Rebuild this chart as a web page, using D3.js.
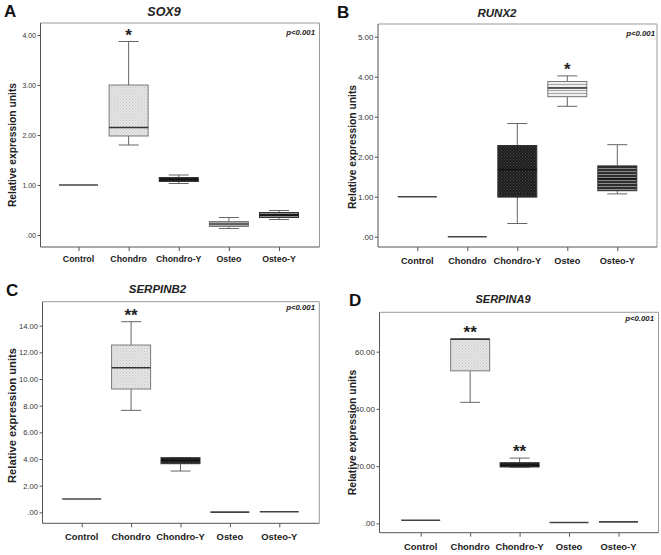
<!DOCTYPE html>
<html><head><meta charset="utf-8">
<script src="https://cdn.jsdelivr.net/npm/d3@7"></script>
<style>html,body{margin:0;padding:0;background:#fff;}svg{display:block;}</style>
</head><body>
<svg id="chart" width="661" height="555"></svg>
<script>
// ---------- DATA ----------
const categories = ["Control", "Chondro", "Chondro-Y", "Osteo", "Osteo-Y"];
// each entry: [min, q1, median, q3, max]
const sox9Stats = [
  [1, 1, 1, 1, 1],
  [1.80, 1.98, 2.15, 3.00, 3.87],
  [1.03, 1.07, 1.11, 1.15, 1.20],
  [0.13, 0.17, 0.22, 0.27, 0.35],
  [0.31, 0.35, 0.40, 0.45, 0.49]
];
const runx2Stats = [
  [1, 1, 1, 1, 1],
  [0, 0, 0, 0, 0],
  [0.33, 0.99, 1.68, 2.28, 2.83],
  [3.26, 3.50, 3.72, 3.88, 4.02],
  [1.07, 1.15, 1.45, 1.77, 2.30]
];
const serpinb2Stats = [
  [1, 1, 1, 1, 1],
  [7.65, 9.25, 10.85, 12.55, 14.30],
  [3.10, 3.65, 3.90, 4.10, 4.10],
  [0.02, 0.02, 0.02, 0.02, 0.02],
  [0.05, 0.05, 0.05, 0.05, 0.05]
];
const serpina9Stats = [
  [1.1, 1.1, 1.1, 1.1, 1.1],
  [42.3, 53.3, 64.3, 64.5, 64.5],
  [19.6, 19.7, 20.3, 21.2, 22.8],
  [0.3, 0.3, 0.3, 0.3, 0.3],
  [0.5, 0.5, 0.5, 0.5, 0.5]
];
const sox9Ticks = [0, 1, 2, 3, 4];
const runx2Ticks = [0, 1, 2, 3, 4, 5];
const serpinb2Ticks = [0, 2, 4, 6, 8, 10, 12, 14];
const serpina9Ticks = [0, 20, 40, 60];
const sox9Stars = ["", "*", "", "", ""];
const runx2Stars = ["", "", "", "*", ""];
const serpinb2Stars = ["", "**", "", "", ""];
const serpina9Stars = ["", "**", "**", "", ""];
const pLabel = "p<0.001";
const yTitle = "Relative expression units";

// ---------- LAYOUT ----------
const panels = [
  {letter:"A", gene:"SOX9", stats:sox9Stats, ticks:sox9Ticks, stars:sox9Stars,
   x0:40.5, x1:319.5, y0:23, y1:247, yDom:[-0.24, 4.24], gap:[38, 40.5],
   letterPos:[4, 17], titlePos:[164, 15.5], titleSize:12.5, pPos:[315, 35], yLabPos:[12, 145], yLabSize:10.3,
   tickSize:7, catY:261.5, catSize:8.8},
  {letter:"B", gene:"RUNX2", stats:runx2Stats, ticks:runx2Ticks, stars:runx2Stars,
   x0:378, x1:657, y0:24, y1:247, yDom:[-0.2575, 5.3175], gap:[39.3, 39.7],
   letterPos:[337, 17.5], titlePos:[497, 17], titleSize:11.5, pPos:[655, 36], yLabPos:[352, 147], yLabSize:10.3,
   tickSize:8, catY:263.5, catSize:9.2},
  {letter:"C", gene:"SERPINB2", stats:serpinb2Stats, ticks:serpinb2Ticks, stars:serpinb2Stars,
   x0:42.5, x1:319.3, y0:301.7, y1:523.3, yDom:[-0.82, 15.8], gap:[39.2, 40],
   letterPos:[6, 295.5], titlePos:[157.5, 292.5], titleSize:11.5, pPos:[315, 310], yLabPos:[12, 415.5], yLabSize:11.2,
   tickSize:7.6, catY:540, catSize:9.4},
  {letter:"D", gene:"SERPINA9", stats:serpina9Stats, ticks:serpina9Ticks, stars:serpina9Stars,
   x0:379.5, x1:658.5, y0:312.3, y1:532.7, yDom:[-3.27, 73.76], gap:[41.2, 40],
   letterPos:[349, 305.5], titlePos:[503, 302.5], titleSize:11, pPos:[654, 321], yLabPos:[352, 432.5], yLabSize:10.4,
   tickSize:8, catY:550, catSize:9.4}
];

const FONT = "'Liberation Sans', Arial, Helvetica, sans-serif";
const svg = d3.select("#chart");
const defs = svg.append("defs");

// patterns
function dotPattern(id, bg, dot) {
  const p = defs.append("pattern").attr("id", id).attr("patternUnits", "userSpaceOnUse")
    .attr("width", 3).attr("height", 3);
  p.append("rect").attr("width", 3).attr("height", 3).attr("fill", bg);
  p.append("rect").attr("x", 0).attr("y", 0).attr("width", 1).attr("height", 1).attr("fill", dot);
  p.append("rect").attr("x", 1.5).attr("y", 1.5).attr("width", 1).attr("height", 1).attr("fill", dot);
}
function linePattern(id, bg, line) {
  const p = defs.append("pattern").attr("id", id).attr("patternUnits", "userSpaceOnUse")
    .attr("width", 4).attr("height", 3);
  p.append("rect").attr("width", 4).attr("height", 3).attr("fill", bg);
  p.append("rect").attr("x", 0).attr("y", 0).attr("width", 4).attr("height", 1).attr("fill", line);
}
dotPattern("dotsLight", "#e6e6e6", "#c4c4c4");
dotPattern("dotsDark", "#1c1c1c", "#4a4a4a");
linePattern("linesLight", "#eeeeee", "#a8a8a8");
linePattern("linesDark", "#2e2e2e", "#8a8a8a");
const fills = [null, "url(#dotsLight)", "url(#dotsDark)", "url(#linesLight)", "url(#linesDark)"];
const strokes = ["#555", "#7a7a7a", "#333", "#7a7a7a", "#333"];

const fmt = v => d3.format(".2f")(v).replace(/^0\./, ".");

panels.forEach(p => {
  const g = svg.append("g");
  const y = d3.scaleLinear().domain(p.yDom).range([p.y1, p.y0]);
  const x = d3.scalePoint().domain(categories).range([p.x0 + p.gap[0], p.x1 - p.gap[1]]);
  const boxW = 39, capW = 20;

  // frame top/right
  g.append("path").attr("d", `M${p.x0},${p.y0}H${p.x1}V${p.y1}`)
    .attr("fill", "none").attr("stroke", "#9a9a9a").attr("stroke-width", 1);

  // y axis
  const yAxis = d3.axisLeft(y).tickValues(p.ticks).tickFormat(fmt).tickSize(3).tickPadding(1.5);
  const ya = g.append("g").attr("transform", `translate(${p.x0},0)`).call(yAxis);
  ya.select(".domain").attr("d", `M0,${p.y0}V${p.y1}`).attr("stroke", "#555");
  ya.selectAll(".tick line").attr("stroke", "#555");
  ya.selectAll(".tick text").attr("font-family", FONT).attr("font-size", p.tickSize).attr("fill", "#333");

  // x axis
  const xAxis = d3.axisBottom(x).tickSize(4).tickFormat("");
  const xa = g.append("g").attr("transform", `translate(0,${p.y1})`).call(xAxis);
  xa.select(".domain").attr("d", `M${p.x0},0H${p.x1}`).attr("stroke", "#555");
  xa.selectAll(".tick line").attr("stroke", "#555");
  g.selectAll("text.cat").data(categories).join("text").attr("class", "cat")
    .attr("x", d => x(d)).attr("y", p.catY).attr("text-anchor", "middle")
    .attr("font-family", FONT).attr("font-weight", "bold").attr("font-size", p.catSize).attr("fill", "#222")
    .text(d => d);

  // boxes
  const items = categories.map((c, i) => ({c, i, s: p.stats[i], star: p.stars[i]}));
  const bg = g.selectAll("g.box").data(items).join("g").attr("class", "box");
  bg.each(function(d) {
    const sel = d3.select(this);
    const cx = x(d.c);
    const [mn, q1, md, q3, mx] = d.s;
    const col = "#666";
    if (q3 - q1 === 0 && mx - mn === 0) {
      sel.append("line").attr("x1", cx - boxW / 2).attr("x2", cx + boxW / 2)
        .attr("y1", y(md)).attr("y2", y(md)).attr("stroke", "#444").attr("stroke-width", 1.6);
      return;
    }
    if (mx > q3) {
      sel.append("line").attr("x1", cx).attr("x2", cx).attr("y1", y(q3)).attr("y2", y(mx)).attr("stroke", col);
    }
    sel.append("line").attr("x1", cx - capW / 2).attr("x2", cx + capW / 2).attr("y1", y(mx)).attr("y2", y(mx)).attr("stroke", col);
    if (mn < q1) {
      sel.append("line").attr("x1", cx).attr("x2", cx).attr("y1", y(q1)).attr("y2", y(mn)).attr("stroke", col);
    }
    sel.append("line").attr("x1", cx - capW / 2).attr("x2", cx + capW / 2).attr("y1", y(mn)).attr("y2", y(mn)).attr("stroke", col);
    sel.append("rect").attr("x", cx - boxW / 2).attr("width", boxW)
      .attr("y", y(q3)).attr("height", Math.max(1, y(q1) - y(q3)))
      .attr("fill", fills[d.i]).attr("stroke", strokes[d.i]).attr("stroke-width", 1);
    sel.append("line").attr("x1", cx - boxW / 2).attr("x2", cx + boxW / 2)
      .attr("y1", y(md)).attr("y2", y(md)).attr("stroke", d.i === 2 || d.i === 4 ? "#111" : "#333").attr("stroke-width", 1.5);
  });
  // stars
  g.selectAll("text.star").data(items.filter(d => d.star)).join("text").attr("class", "star")
    .attr("x", d => x(d.c)).attr("y", d => y(d.s[4]) - 1)
    .attr("text-anchor", "middle").attr("font-family", FONT).attr("font-weight", "bold")
    .attr("font-size", 17).attr("fill", "#222").text(d => d.star);

  // texts
  g.append("text").attr("x", p.letterPos[0]).attr("y", p.letterPos[1])
    .attr("font-family", FONT).attr("font-weight", "bold").attr("font-size", 17).attr("fill", "#111").text(p.letter);
  g.append("text").attr("x", p.titlePos[0]).attr("y", p.titlePos[1]).attr("text-anchor", "middle")
    .attr("font-family", FONT).attr("font-weight", "bold").attr("font-style", "italic")
    .attr("font-size", p.titleSize).attr("fill", "#222").text(p.gene);
  g.append("text").attr("x", p.pPos[0]).attr("y", p.pPos[1]).attr("text-anchor", "end")
    .attr("font-family", FONT).attr("font-weight", "bold").attr("font-style", "italic")
    .attr("font-size", 7.8).attr("fill", "#222").text(pLabel);
  g.append("text").attr("transform", `translate(${p.yLabPos[0]},${p.yLabPos[1]}) rotate(-90)`)
    .attr("text-anchor", "middle").attr("dominant-baseline", "central")
    .attr("font-family", FONT).attr("font-weight", "bold").attr("font-size", p.yLabSize).attr("fill", "#222").text(yTitle);
});
</script>
</body></html>
